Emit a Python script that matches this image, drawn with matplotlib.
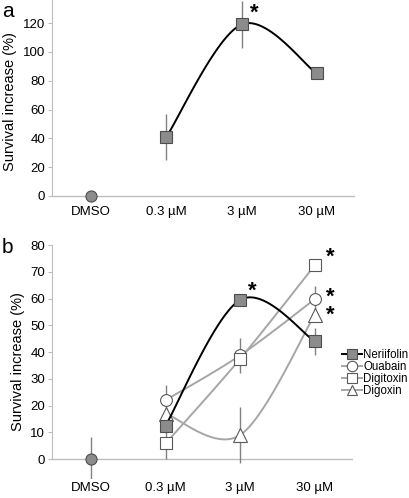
import numpy as np
import matplotlib
matplotlib.use('Agg')
import matplotlib.pyplot as plt

plt.rcParams['font.family'] = ['Liberation Sans', 'DejaVu Sans']

# data
doses = ['DMSO', '0.3 \u00b5M', '3 \u00b5M', '30 \u00b5M']

# panel a
dmso_a = 0.0
ner_a = [41, 119, 85]
ner_a_err = [16, 16, 4]

# panel b
dmso_b = 0.0
dmso_b_err = 8.2
ner_b = [12.5, 59.5, 44]
ner_b_err = [0, 0, 5]
oua_b = [22, 38.8, 59.8]
oua_b_err = [5.8, 6.5, 4.8]
dtx_b = [5.8, 37.5, 72.5]
dtx_b_err = [5.8, 0, 0]
dgx_b = [17, 9, 54]
dgx_b_err = [0, 10.5, 0]

GRAY = '#a6a6a6'
AXC = '#bdbdbd'


def smooth(x, y, n=40):
    """Excel-like smoothed line (Catmull-Rom Bezier) through the points"""
    x = np.asarray(x, float)
    y = np.asarray(y, float)
    P = np.column_stack([x, y])
    out = []
    t = np.linspace(0, 1, n)[:, None]
    for i in range(len(P) - 1):
        p0 = P[i - 1] if i > 0 else P[i]
        p1, p2 = P[i], P[i + 1]
        p3 = P[i + 2] if i + 2 < len(P) else P[i + 1]
        c1 = p1 + (p2 - p0) / 6
        c2 = p2 - (p3 - p1) / 6
        seg = ((1 - t) ** 3) * p1 + 3 * ((1 - t) ** 2) * t * c1 + 3 * (1 - t) * t ** 2 * c2 + t ** 3 * p2
        out.append(seg)
    out = np.vstack(out)
    return out[:, 0], out[:, 1]


def style_axes(ax, ymax, step):
    for s in ['top', 'right', 'bottom']:
        ax.spines[s].set_visible(False)
    ax.spines['left'].set_color(AXC)
    ax.spines['left'].set_bounds(0, ymax)
    ax.set_yticks(np.arange(0, ymax + 1, step))
    ax.tick_params(axis='y', length=3, color=AXC, labelsize=9.5, pad=2)
    ax.tick_params(axis='x', length=0, labelsize=9.5, pad=2)
    ax.set_xticks(range(4))
    ax.set_xticklabels(doses)
    ax.set_xlim(-0.52, 3.51)
    ax.axhline(0, color=AXC, lw=1, zorder=0)
    ax.set_ylabel('Survival increase (%)', fontsize=10.5, labelpad=4)


fig = plt.figure(figsize=(4.1, 4.98), dpi=100)
axa = fig.add_axes([0.127, 0.592, 0.739, 0.408])
axb = fig.add_axes([0.127, 0.038, 0.734, 0.47])

xs = np.array([1, 2, 3])

# ---- panel a
sx, sy = smooth(xs, ner_a)
axa.plot(sx, sy, color='black', lw=1.4, zorder=2)
axa.errorbar(xs, ner_a, yerr=ner_a_err, fmt='none', ecolor='#808080', elinewidth=1, zorder=1)
axa.plot(xs, ner_a, 's', ms=9, mfc='#8c8c8c', mec='#4d4d4d', mew=0.8, zorder=3)
axa.plot([0], [dmso_a], 'o', ms=8, mfc='#8c8c8c', mec='#4d4d4d', mew=0.8, zorder=3)
axa.set_ylim(-5, 136)
style_axes(axa, 136, 20)
axa.set_yticks(np.arange(0, 121, 20))
axa.annotate('*', (2, ner_a[1]), xytext=(13, 11), textcoords='offset pixels',
             fontsize=16, fontweight='bold', ha='center', va='center')

# ---- panel b
axb.errorbar([0], [dmso_b], yerr=dmso_b_err, fmt='none', ecolor='#808080', elinewidth=1, zorder=1)
axb.plot([0], [dmso_b], 'o', ms=8, mfc='#8c8c8c', mec='#4d4d4d', mew=0.8, zorder=5)

series = [
    ('Neriifolin', ner_b, ner_b_err, 's', 'black', '#8c8c8c', '#4d4d4d'),
    ('Ouabain', oua_b, oua_b_err, 'o', GRAY, 'white', '#595959'),
    ('Digitoxin', dtx_b, dtx_b_err, 's', GRAY, 'white', '#595959'),
    ('Digoxin', dgx_b, dgx_b_err, '^', GRAY, 'white', '#595959'),
]
handles = []
for i, (name, vals, errs, mk, lc, fc, ec) in enumerate(series):
    sx, sy = smooth(xs, vals)
    z = 4 if name == 'Neriifolin' else 2
    axb.plot(sx, sy, color=lc, lw=1.4, zorder=z)
    axb.errorbar(xs, vals, yerr=errs, fmt='none', ecolor='#808080', elinewidth=1, zorder=1)
    msize = 9.5 if mk == '^' else 8.5
    axb.plot(xs, vals, mk, ms=msize, mfc=fc, mec=ec, mew=0.8, zorder=z + 1)
    h, = axb.plot([], [], color=lc, lw=1.4, marker=mk, ms=7.5, mfc=fc, mec=ec, mew=0.8)
    handles.append((h, name))

axb.set_ylim(-7.5, 80)
style_axes(axb, 80, 10)

stars = [(2, ner_b[1], 12, 9), (3, dtx_b[2], 15, 8)]
for x, y, dx, dy in stars:
    axb.annotate('*', (x, y), xytext=(dx, dy), textcoords='offset pixels',
                 fontsize=16, fontweight='bold', ha='center', va='center')
# Ouabain and Digoxin stars at 30 uM stacked in one text
axb.annotate('*\n*', (3, oua_b[2]), xytext=(15, 12), textcoords='offset pixels',
             fontsize=16, fontweight='bold', ha='center', va='top', linespacing=0.8)

fig.legend([h for h, _ in handles], [n for _, n in handles], loc='upper left',
           bbox_to_anchor=(0.833, 0.30), frameon=False, fontsize=8.3,
           handlelength=1.75, handletextpad=0.15, labelspacing=0.0,
           borderpad=0, borderaxespad=0)

fig.text(0.005, 0.995, 'a', fontsize=15, ha='left', va='top')
fig.text(0.005, 0.522, 'b', fontsize=15, ha='left', va='top')

fig.savefig('out.png', dpi=100)
